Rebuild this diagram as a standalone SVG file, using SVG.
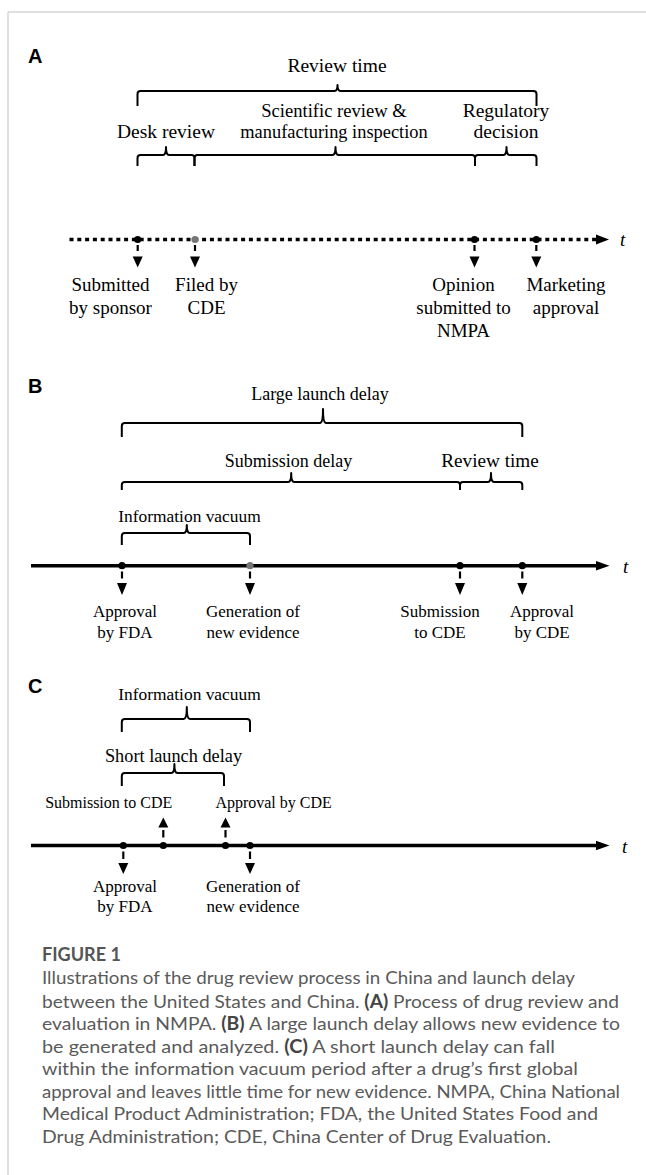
<svg xmlns="http://www.w3.org/2000/svg" width="646" height="1175" viewBox="0 0 646 1175">
<style>
.lbl{font-family:"Liberation Serif","Times New Roman",serif;fill:#000;text-anchor:middle}
.pan{font-family:"Liberation Sans",Arial,sans-serif;font-weight:bold;font-size:20px;fill:#000}
.brace{fill:none;stroke:#000;stroke-width:2;stroke-linejoin:round}
.axis{stroke:#000;stroke-width:3.5;fill:none}
.dotted{stroke:#000;stroke-width:3.3;fill:none;stroke-dasharray:4 3.8}
.tick{stroke:#000;stroke-width:2.2}
.tri{fill:#000}
.t{font-family:"Liberation Serif","Times New Roman",serif;font-style:italic;font-size:19px;fill:#000}
.cap{font-family:Lato,"Open Sans",sans-serif;font-size:18px;font-weight:normal;fill:#5a5a5a}
.capb{font-weight:bold;fill:#444}
</style>
<g id="frame"><line x1="8" y1="12" x2="646" y2="12" stroke="#d6d6d6" stroke-width="1.5"/><line x1="8" y1="12" x2="8" y2="1175" stroke="#d6d6d6" stroke-width="1.5"/></g>

<!-- Panel A -->
<g id="panelA">
<text class="pan" x="28" y="63">A</text>
<g id="A-labels" class="lbl" font-size="19.5">
<text x="337" y="72">Review time</text>
<text x="166" y="138">Desk review</text>
<text x="334" y="117" font-size="18.6">Scientific review &amp;</text>
<text x="334" y="138" font-size="18.4">manufacturing inspection</text>
<text x="506" y="117">Regulatory</text>
<text x="506" y="138">decision</text>
</g>
<g id="A-braces">
<path class="brace" d="M137.5,106 V94 Q137.5,91 140.5,91 H334.5 Q337.5,91 337.5,85 Q337.5,91 340.5,91 H533.5 Q536.5,91 536.5,94 V106"/>
<path class="brace" d="M137.5,166 V158 Q137.5,155 140.5,155 H163 Q166,155 166,147 Q166,155 169,155 H191.5 Q194.5,155 194.5,158 V166"/>
<path class="brace" d="M194.5,166 V158 Q194.5,155 197.5,155 H332.5 Q335.5,155 335.5,147 Q335.5,155 338.5,155 H472 Q475,155 475,158 V166"/>
<path class="brace" d="M475,166 V158 Q475,155 478,155 H503.5 Q506.5,155 506.5,147 Q506.5,155 509.5,155 H533.5 Q536.5,155 536.5,158 V166"/>
</g>
<g id="A-axis">
<line class="dotted" x1="69.5" y1="239.5" x2="596" y2="239.5"/>
<polygon class="tri" points="596,234.5 609,239.5 596,244.5"/>
<text class="t" x="620" y="246">t</text>
</g>
<g id="A-events">
<circle cx="137.7" cy="239.5" r="3.6" fill="#000"/>
<circle cx="195" cy="239.5" r="3.6" fill="#777"/>
<circle cx="474.5" cy="239.5" r="3.6" fill="#000"/>
<circle cx="536.3" cy="239.5" r="3.6" fill="#000"/>
<line class="tick" x1="137.7" y1="245" x2="137.7" y2="251"/><polygon class="tri" points="132.7,256.5 142.7,256.5 137.7,267.5"/>
<line class="tick" x1="195" y1="245" x2="195" y2="251"/><polygon class="tri" points="190,256.5 200,256.5 195,267.5"/>
<line class="tick" x1="474.5" y1="245" x2="474.5" y2="251"/><polygon class="tri" points="469.5,256.5 479.5,256.5 474.5,267.5"/>
<line class="tick" x1="536.3" y1="245" x2="536.3" y2="251"/><polygon class="tri" points="531.3,256.5 541.3,256.5 536.3,267.5"/>
</g>
<g id="A-event-labels" class="lbl" font-size="19">
<text x="110.5" y="290.5">Submitted</text><text x="110.5" y="313.5">by sponsor</text>
<text x="206.5" y="290.5">Filed by</text><text x="206.5" y="313.5">CDE</text>
<text x="463.5" y="290.5">Opinion</text><text x="463.5" y="313.5">submitted to</text><text x="463.5" y="336.5">NMPA</text>
<text x="566" y="290.5">Marketing</text><text x="566" y="313.5">approval</text>
</g>
</g>

<!-- Panel B -->
<g id="panelB">
<text class="pan" x="28" y="393">B</text>
<g id="B-labels" class="lbl" font-size="18">
<text x="320" y="400">Large launch delay</text>
<text x="288.5" y="467">Submission delay</text>
<text x="490" y="467" font-size="19.2">Review time</text>
<text x="189.5" y="522" font-size="17.4">Information vacuum</text>
</g>
<g id="B-braces">
<path class="brace" d="M121.8,437 V426 Q121.8,423 124.8,423 H320 Q323,423 323,409 Q323,423 326,423 H519.3 Q522.3,423 522.3,426 V437"/>
<path class="brace" d="M121.8,490 V485 Q121.8,482 124.8,482 H288.2 Q291.2,482 291.2,473 Q291.2,482 294.2,482 H457 Q460,482 460,485 V490"/>
<path class="brace" d="M460,490 V485 Q460,482 463,482 H488 Q491,482 491,473 Q491,482 494,482 H519.3 Q522.3,482 522.3,485 V490"/>
<path class="brace" d="M121.8,545 V536 Q121.8,533 124.8,533 H183.8 Q186.8,533 186.8,525 Q186.8,533 189.8,533 H247 Q250,533 250,536 V545"/>
</g>
<g id="B-axis">
<line class="axis" x1="31" y1="565.7" x2="598" y2="565.7"/>
<polygon class="tri" points="596,561 609.5,565.7 596,570.4"/>
<text class="t" x="623" y="573">t</text>
</g>
<g id="B-events">
<circle cx="122" cy="565.7" r="3.6" fill="#000"/>
<circle cx="250" cy="565.7" r="3.6" fill="#777"/>
<circle cx="460" cy="565.7" r="3.6" fill="#000"/>
<circle cx="522.3" cy="565.7" r="3.6" fill="#000"/>
<line class="tick" x1="122" y1="571.5" x2="122" y2="578.5"/><polygon class="tri" points="117,583 127,583 122,595"/>
<line class="tick" x1="250" y1="571.5" x2="250" y2="578.5"/><polygon class="tri" points="245,583 255,583 250,595"/>
<line class="tick" x1="460" y1="571.5" x2="460" y2="578.5"/><polygon class="tri" points="455,583 465,583 460,595"/>
<line class="tick" x1="522.3" y1="571.5" x2="522.3" y2="578.5"/><polygon class="tri" points="517.3,583 527.3,583 522.3,595"/>
</g>
<g id="B-event-labels" class="lbl" font-size="17">
<text x="125" y="616.5">Approval</text><text x="125" y="638.3">by FDA</text>
<text x="253" y="616.5">Generation of</text><text x="253" y="638.3">new evidence</text>
<text x="440" y="616.5">Submission</text><text x="440" y="638.3">to CDE</text>
<text x="542" y="616.5">Approval</text><text x="542" y="638.3">by CDE</text>
</g>
</g>

<!-- Panel C -->
<g id="panelC">
<text class="pan" x="28" y="693">C</text>
<g id="C-labels" class="lbl" font-size="17.4">
<text x="189.5" y="700">Information vacuum</text>
<text x="173.5" y="762" font-size="18.3">Short launch delay</text>
<text x="108.7" y="808" font-size="16">Submission to CDE</text>
<text x="273.6" y="808" font-size="16">Approval by CDE</text>
</g>
<g id="C-braces">
<path class="brace" d="M121.8,732 V722 Q121.8,719 124.8,719 H183.8 Q186.8,719 186.8,707 Q186.8,719 189.8,719 H247 Q250,719 250,722 V732"/>
<path class="brace" d="M121.8,786 V776 Q121.8,773 124.8,773 H171.4 Q174.4,773 174.4,764 Q174.4,773 177.4,773 H221 Q224,773 224,776 V786"/>
</g>
<g id="C-axis">
<line class="axis" x1="31" y1="845.5" x2="598" y2="845.5"/>
<polygon class="tri" points="596,840.8 609.5,845.5 596,850.2"/>
<text class="t" x="622" y="853">t</text>
</g>
<g id="C-events">
<circle cx="123.3" cy="845.5" r="3.6" fill="#000"/>
<circle cx="163.3" cy="845.5" r="3.6" fill="#000"/>
<circle cx="225.5" cy="845.5" r="3.6" fill="#000"/>
<circle cx="250" cy="845.5" r="3.6" fill="#000"/>
<polygon class="tri" points="158.3,827.5 168.3,827.5 163.3,817.5"/><line class="tick" x1="163.3" y1="830" x2="163.3" y2="837.5"/>
<polygon class="tri" points="220.5,827.5 230.5,827.5 225.5,817.5"/><line class="tick" x1="225.5" y1="830" x2="225.5" y2="837.5"/>
<line class="tick" x1="123.3" y1="851.5" x2="123.3" y2="859"/><polygon class="tri" points="118.3,863 128.3,863 123.3,874"/>
<line class="tick" x1="250" y1="851.5" x2="250" y2="859"/><polygon class="tri" points="245,863 255,863 250,874"/>
</g>
<g id="C-event-labels" class="lbl" font-size="17">
<text x="125" y="892">Approval</text><text x="125" y="912">by FDA</text>
<text x="253" y="892">Generation of</text><text x="253" y="912">new evidence</text>
</g>
</g>

<!-- Caption -->
<g id="caption">
<text x="42" y="961" font-family="Lato,'Open Sans',sans-serif" font-size="18" font-weight="bold" fill="#555" textLength="79" lengthAdjust="spacingAndGlyphs">FIGURE 1</text>
<text class="cap" x="42" y="984.3" textLength="533" lengthAdjust="spacingAndGlyphs">Illustrations of the drug review process in China and launch delay</text>
<text class="cap" x="42" y="1007.7" textLength="577" lengthAdjust="spacingAndGlyphs">between the United States and China. <tspan class="capb">(A)</tspan> Process of drug review and</text>
<text class="cap" x="42" y="1030" textLength="578" lengthAdjust="spacingAndGlyphs">evaluation in NMPA. <tspan class="capb">(B)</tspan> A large launch delay allows new evidence to</text>
<text class="cap" x="42" y="1052.7" textLength="513" lengthAdjust="spacingAndGlyphs">be generated and analyzed. <tspan class="capb">(C)</tspan> A short launch delay can fall</text>
<text class="cap" x="42" y="1075" textLength="536" lengthAdjust="spacingAndGlyphs">within the information vacuum period after a drug’s first global</text>
<text class="cap" x="42" y="1097.7" textLength="578" lengthAdjust="spacingAndGlyphs">approval and leaves little time for new evidence. NMPA, China National</text>
<text class="cap" x="42" y="1120" textLength="556" lengthAdjust="spacingAndGlyphs">Medical Product Administration; FDA, the United States Food and</text>
<text class="cap" x="42" y="1143.3" textLength="509" lengthAdjust="spacingAndGlyphs">Drug Administration; CDE, China Center of Drug Evaluation.</text>
</g>
</svg>
